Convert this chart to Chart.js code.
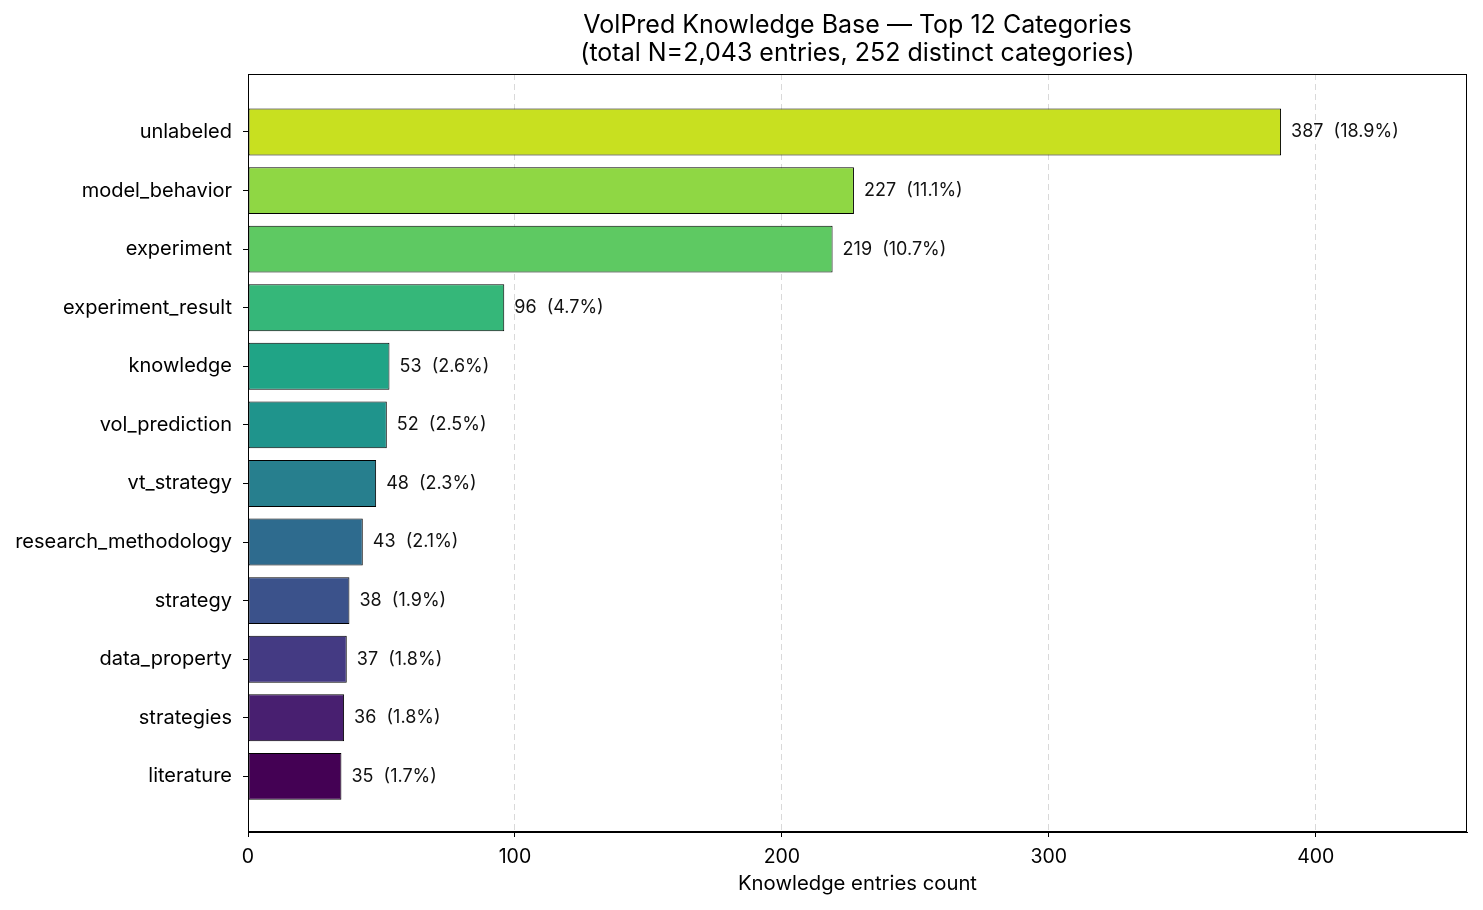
<!DOCTYPE html>
<html>
<head>
<meta charset="utf-8">
<script src="https://cdn.jsdelivr.net/npm/chart.js@4.4.1/dist/chart.umd.min.js"></script>
<style>
html,body{margin:0;padding:0;background:#fff;}
#wrap{width:1483px;height:910px;position:relative;}
</style>
</head>
<body>
<div id="wrap"><canvas id="c" width="1483" height="910"></canvas></div>
<script>
const categories = ["unlabeled","model_behavior","experiment","experiment_result","knowledge","vol_prediction","vt_strategy","research_methodology","strategy","data_property","strategies","literature"];
const counts = [387,227,219,96,53,52,48,43,38,37,36,35];
const percents = ["18.9","11.1","10.7","4.7","2.6","2.5","2.3","2.1","1.9","1.8","1.8","1.7"];
const colors = ["#c8e020","#8fd744","#5ec962","#35b779","#20a486","#1f948c","#277f8e","#2e6b8e","#3b528b","#443a83","#481f70","#440154"];
const xTicks = [0,100,200,300,400];
const titleLines = ["VolPred Knowledge Base \u2014 Top 12 Categories","(total N=2,043 entries, 252 distinct categories)"];
const xTitle = "Knowledge entries count";

const FONT = "Inter, 'DejaVu Sans', sans-serif";
const xMax = 387*1.18;

const frame = {
  id:'frame',
  afterDraw(chart){
    const {ctx, chartArea:a} = chart;
    ctx.save();
    ctx.setLineDash([]);
    ctx.strokeStyle = '#000'; ctx.lineWidth = 1;
    ctx.strokeRect(a.left+0.5, a.top+0.5, a.right-a.left-1, a.bottom-a.top-1);
    // value labels
    ctx.font = "18px " + FONT;
    ctx.fillStyle = '#111'; ctx.textBaseline='middle'; ctx.textAlign='left';
    const meta = chart.getDatasetMeta(0);
    meta.data.forEach((bar,i)=>{
      ctx.fillText(counts[i] + "  (" + percents[i] + "%)", bar.x + 10, bar.y);
    });
    // title
    ctx.font = "25px " + FONT; ctx.textAlign='center'; ctx.fillStyle='#000';
    const cx = (a.left+a.right)/2;
    ctx.fillText(titleLines[0], cx, 25);
    ctx.fillText(titleLines[1], cx, 53);
    ctx.font = "20.3px " + FONT;
    ctx.fillText(xTitle, cx, 884);
    ctx.restore();
  }
};

new Chart(document.getElementById('c'), {
  type:'bar',
  data:{
    datasets:[{
      data: counts.map((v,i)=>({x:v, y:i})),
      backgroundColor: colors,
      borderColor:'#000',
      borderWidth:1,
      borderSkipped:false,
      barPercentage:0.8,
      categoryPercentage:1.0
    }]
  },
  options:{
    indexAxis:'y',
    responsive:false,
    animation:false,
    devicePixelRatio:1,
    layout:{padding:{top:74,right:16,left:0,bottom:0}},
    plugins:{legend:{display:false},tooltip:{enabled:false},title:{display:false}},
    scales:{
      x:{
        type:'linear', min:0, max:xMax, offset:false,
        afterBuildTicks(s){ s.ticks = xTicks.map(v=>({value:v})); },
        afterFit(s){ s.height = 78; },
        border:{display:true,color:'#000',width:1,dash:[6,4]},
        grid:{
          color:(ctx)=> (ctx.tick && ctx.tick.value===0) ? 'rgba(0,0,0,0)' : '#d9d9d9',
          lineWidth:1, offset:false,
          drawTicks:true, tickLength:5, tickColor:'#000', tickWidth:1, tickBorderDash:[]
        },
        ticks:{color:'#000', font:{family:FONT,size:19.5}, padding:8, maxRotation:0}
      },
      y:{
        type:'linear', reverse:true, min:-0.99, max:11.95, offset:false,
        afterBuildTicks(s){ s.ticks = categories.map((c,i)=>({value:i})); },
        afterFit(s){ s.width = 248; },
        border:{display:true,color:'#000',width:1},
        grid:{drawOnChartArea:false, offset:false, drawTicks:true, tickLength:5, tickColor:'#000', tickWidth:1},
        ticks:{color:'#000', font:{family:FONT,size:20}, padding:11, autoSkip:false,
          callback:(v)=>categories[v]}
      }
    }
  },
  plugins:[frame]
});
</script>
</body>
</html>
